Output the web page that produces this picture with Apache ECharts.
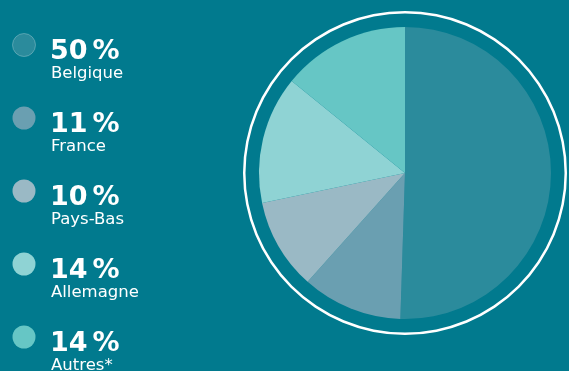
<!DOCTYPE html>
<html>
<head>
<meta charset="utf-8">
<script src="https://cdn.jsdelivr.net/npm/echarts@6/dist/echarts.min.js"></script>
<style>
  html, body { margin: 0; padding: 0; background: #017a8e; }
  #chart { width: 569px; height: 371px; }
</style>
</head>
<body>
<div id="chart"></div>
<script>
// Répartition par pays
const countries = ['Belgique', 'France', 'Pays-Bas', 'Allemagne', 'Autres*'];
const shares = [50, 11, 10, 14, 14];
const colors = ['#2b8b9c', '#6a9fb1', '#9ab9c5', '#8fd3d4', '#66c6c5'];

const chart = echarts.init(document.getElementById('chart'), null, { renderer: 'canvas' });

// Légende dessinée à gauche : pastille, pourcentage, nom du pays
const legendItems = [];
countries.forEach((name, i) => {
  const cy = 45 + i * 73;
  legendItems.push({
    type: 'circle',
    shape: { cx: 24, cy: cy, r: 11.5 },
    style: { fill: colors[i], stroke: i === 0 ? 'rgba(255,255,255,0.25)' : null, lineWidth: 1 }
  });
  legendItems.push({
    type: 'text',
    x: 50, y: cy + 20,
    style: {
      text: '{n|' + shares[i] + '}{p|%}',
      verticalAlign: 'bottom',
      rich: {
        n: { fill: '#ffffff', fontFamily: 'DejaVu Sans', fontWeight: 'bold', fontSize: 27 },
        p: { fill: '#ffffff', fontFamily: 'DejaVu Sans', fontWeight: 'bold', fontSize: 27, padding: [0, 0, 0, 5] }
      }
    }
  });
  legendItems.push({
    type: 'text',
    x: 51, y: cy + 20,
    style: {
      text: name,
      fill: '#ffffff',
      verticalAlign: 'top',
      font: '16.5px "DejaVu Sans"'
    }
  });
});

chart.setOption({
  backgroundColor: '#017a8e',
  animation: false,
  graphic: legendItems,
  series: [
    {
      type: 'pie',
      center: [405, 173],
      radius: [0, 146],
      startAngle: 90,
      clockwise: true,
      silent: true,
      label: { show: false },
      labelLine: { show: false },
      itemStyle: { borderWidth: 0 },
      data: countries.map((name, i) => ({
        name: name,
        value: shares[i],
        itemStyle: { color: colors[i] }
      }))
    },
    {
      // anneau blanc autour du camembert
      type: 'pie',
      center: [405, 173],
      radius: [159.5, 162],
      silent: true,
      label: { show: false },
      labelLine: { show: false },
      data: [{ value: 1, itemStyle: { color: '#ffffff' } }]
    }
  ]
});
</script>
</body>
</html>
